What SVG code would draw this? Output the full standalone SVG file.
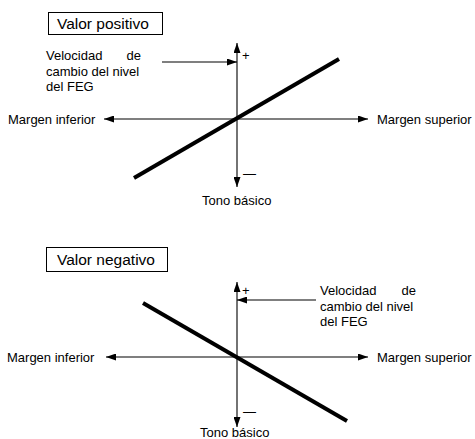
<svg xmlns="http://www.w3.org/2000/svg" width="475" height="439" viewBox="0 0 475 439">
<style>
text{font-family:"Liberation Sans",Arial,sans-serif;font-size:13px;fill:#000}
.title{font-size:15.5px}
.box{fill:#fff;stroke:#000;stroke-width:1}
.axis{stroke:#000;stroke-width:1.1;fill:none}
.curve{stroke:#000;stroke-width:4;fill:none}
</style>
<defs>
<marker id="ah" markerUnits="userSpaceOnUse" markerWidth="11" markerHeight="7" refX="10" refY="3.5" orient="auto">
<path d="M0,0 L10,3.5 L0,7 z" fill="#000"/>
</marker>
</defs>
<rect width="475" height="439" fill="#fff"/>

<g id="title-pos">
<rect class="box" x="48.5" y="12.5" width="114" height="22"/>
<text class="title" x="57" y="29">Valor positivo</text>
</g>
<g id="rate-pos">
<text x="46" y="60">Velocidad</text><text x="141" y="60" text-anchor="end">de</text>
<text x="46" y="75.5">cambio del nivel</text>
<text x="46" y="91">del FEG</text>
</g>
<g id="low-pos"><text x="8" y="123.5">Margen inferior</text></g>
<g id="high-pos"><text x="377" y="123.5">Margen superior</text></g>
<g id="base-pos"><text x="202" y="205">Tono básico</text></g>
<g id="plus-pos"><text x="242" y="59.5">+</text></g>
<g id="minus-pos"><text x="243" y="178">—</text></g>

<g id="title-neg">
<rect class="box" x="46.5" y="247.5" width="121" height="24"/>
<text class="title" x="57" y="265">Valor negativo</text>
</g>
<g id="rate-neg">
<text x="320" y="295">Velocidad</text><text x="416" y="295" text-anchor="end">de</text>
<text x="320" y="310.5">cambio del nivel</text>
<text x="320" y="326">del FEG</text>
</g>
<g id="low-neg"><text x="7" y="361.5">Margen inferior</text></g>
<g id="high-neg"><text x="377" y="361.5">Margen superior</text></g>
<g id="base-neg"><text x="200" y="437">Tono básico</text></g>
<g id="plus-neg"><text x="242" y="294.5">+</text></g>
<g id="minus-neg"><text x="243" y="416">—</text></g>

<g id="connectors">
<line class="axis" x1="237" y1="119" x2="237" y2="43" marker-end="url(#ah)"/>
<line class="axis" x1="237" y1="119" x2="237" y2="187" marker-end="url(#ah)"/>
<line class="axis" x1="237" y1="119" x2="104" y2="119" marker-end="url(#ah)"/>
<line class="axis" x1="237" y1="119" x2="368" y2="119" marker-end="url(#ah)"/>
<line class="axis" x1="162" y1="62" x2="237" y2="62" marker-end="url(#ah)"/>
<line class="curve" x1="134" y1="178" x2="339" y2="59"/>

<line class="axis" x1="237" y1="357" x2="237" y2="282" marker-end="url(#ah)"/>
<line class="axis" x1="237" y1="357" x2="237" y2="427" marker-end="url(#ah)"/>
<line class="axis" x1="237" y1="357" x2="106" y2="357" marker-end="url(#ah)"/>
<line class="axis" x1="237" y1="357" x2="368" y2="357" marker-end="url(#ah)"/>
<line class="axis" x1="316" y1="300" x2="237" y2="300" marker-end="url(#ah)"/>
<line class="curve" x1="143" y1="303" x2="347" y2="421"/>
</g>
</svg>
